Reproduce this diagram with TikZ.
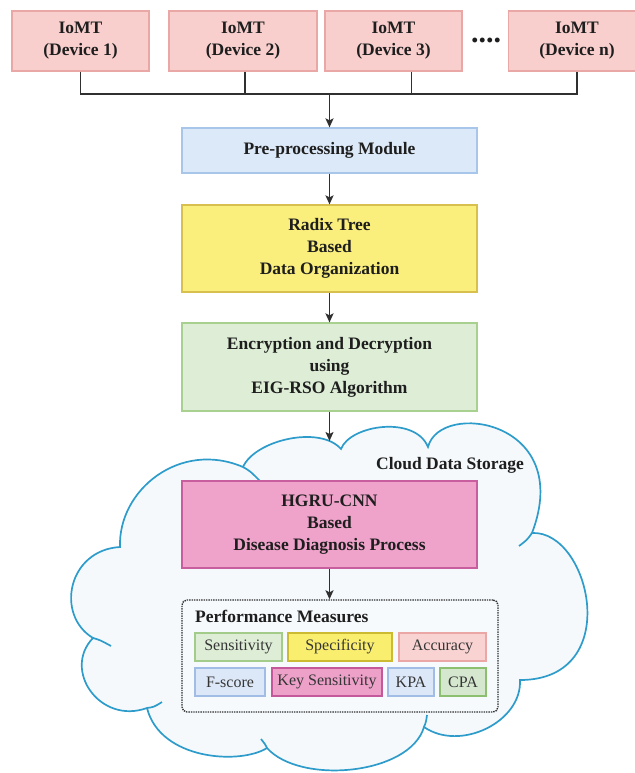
\documentclass[tikz,border=0pt]{standalone}
\usepackage{fontspec}
\setmainfont{Liberation Serif}
\usetikzlibrary{arrows.meta,calc}
\definecolor{txt}{HTML}{1E1E1E}
\definecolor{devfill}{HTML}{F8CFCD}\definecolor{devdraw}{HTML}{E9A8A6}
\definecolor{prefill}{HTML}{DCE9F8}\definecolor{predraw}{HTML}{A8C6EA}
\definecolor{radfill}{HTML}{FAEE7C}\definecolor{raddraw}{HTML}{D8C04E}
\definecolor{encfill}{HTML}{DDEDD6}\definecolor{encdraw}{HTML}{A8D08E}
\definecolor{hgfill}{HTML}{EFA3CA}\definecolor{hgdraw}{HTML}{C95E9E}
\definecolor{cloudfill}{HTML}{F5F9FC}\definecolor{clouddraw}{HTML}{2E9CCB}
\definecolor{perffill}{HTML}{F7FAFD}
\definecolor{sensfill}{HTML}{DDEDD6}\definecolor{sensdraw}{HTML}{A3CB8A}
\definecolor{specfill}{HTML}{F9EE6E}\definecolor{specdraw}{HTML}{CDBA33}
\definecolor{accfill}{HTML}{F9D3D2}\definecolor{accdraw}{HTML}{EBA7A5}
\definecolor{bluefill}{HTML}{DCE8F8}\definecolor{bluedraw}{HTML}{A1BDE6}
\definecolor{keyfill}{HTML}{EDA1C8}\definecolor{keydraw}{HTML}{C4589A}
\definecolor{cpafill}{HTML}{D5E8CF}\definecolor{cpadraw}{HTML}{8CC070}
\definecolor{linec}{HTML}{303030}
\begin{document}
\begin{tikzpicture}[x=1pt,y=-1pt,
  box/.style={draw, line width=1.2pt, inner sep=0pt, align=center, text=txt,
    font=\fontsize{17.5}{22}\selectfont\bfseries},
  item/.style={draw, line width=1.2pt, inner sep=0pt, align=center, text=txt!90,
    minimum height=28pt, font=\fontsize{16}{18}\selectfont},
  conn/.style={draw=linec, line width=1.7pt},
  arr/.style={conn, -{Stealth[length=9pt,width=8pt,inset=2pt]}},
  cloudline/.style={draw=clouddraw, line width=1.7pt}]
\useasboundingbox (0,0) rectangle (634,773);

% devices
\node[box, fill=devfill, draw=devdraw, minimum width=137pt, minimum height=60pt] (d1) at (80.5,41) {IoMT\\(Device 1)};
\node[box, fill=devfill, draw=devdraw, minimum width=148pt, minimum height=60pt] (d2) at (243,41) {IoMT\\(Device 2)};
\node[box, fill=devfill, draw=devdraw, minimum width=137pt, minimum height=60pt] (d3) at (393.5,41) {IoMT\\(Device 3)};
\node[box, fill=devfill, draw=devdraw, minimum width=137pt, minimum height=60pt] (dn) at (577,41) {IoMT\\(Device n)};
\node[text=txt, font=\fontsize{30}{30}\selectfont\bfseries, inner sep=0pt, anchor=base] (dots) at (486,43) {....};

\coordinate (bus) at (329.5,94);
\draw[conn] (d1.south) |- (bus);
\draw[conn] (dn.south) |- (bus);
\draw[conn] ([xshift=2pt]d2.south) -- ([xshift=2pt]d2.south |- bus);
\draw[conn] ([xshift=18pt]d3.south) -- ([xshift=18pt]d3.south |- bus);

% pipeline
\node[box, fill=prefill, draw=predraw, minimum width=295pt, minimum height=45pt] (pre) at (329.5,150.5) {Pre-processing Module};
\node[box, fill=radfill, draw=raddraw, minimum width=295pt, minimum height=87pt] (rad) at (329.5,248.5) {Radix Tree\\Based\\Data Organization};
\node[box, fill=encfill, draw=encdraw, minimum width=295pt, minimum height=88pt] (enc) at (329.5,367) {Encryption and Decryption\\using\\EIG-RSO Algorithm};

\draw[arr] (bus) -- (pre);
\draw[arr] (pre) -- (rad);
\draw[arr] (rad) -- (enc);

% cloud
\draw[cloudline, fill=cloudfill]
  (120,547) .. controls (118,490) and (180,440) .. (243,467)
  .. controls (255,440) and (320,425) .. (341,449)
  .. controls (350,425) and (415,415) .. (428,447)
  .. controls (440,400) and (575,420) .. (532,533)
  .. controls (590,530) and (625,680) .. (520,680)
  .. controls (522,722) and (460,752) .. (424,727)
  .. controls (410,775) and (300,785) .. (267,748)
  .. controls (240,765) and (160,760) .. (147,708)
  .. controls (100,725) and (62,670) .. (93,638)
  .. controls (55,615) and (68,550) .. (120,547) -- cycle;
\draw[cloudline] (243,467) .. controls (250,471) .. (260,481);
\draw[cloudline] (532,533) .. controls (527,540) .. (519,546);
\draw[cloudline] (93,638) .. controls (100,640) .. (111,646);
\draw[cloudline] (147,708) .. controls (154,707) .. (162,702);
\draw[cloudline] (267,748) .. controls (265,744) .. (261,739);
\draw[cloudline] (424,727) .. controls (426,722) .. (427,715);

\coordinate (cloudtop) at (329.5,441);
\draw[arr] (enc) -- (cloudtop);

\node[text=txt, font=\fontsize{17.5}{22}\selectfont\bfseries, inner sep=0pt] (cds) at (450,465) {Cloud Data Storage};

\node[box, fill=hgfill, draw=hgdraw, minimum width=295pt, minimum height=87pt] (hg) at (329.5,524.5) {HGRU-CNN\\Based\\Disease Diagnosis Process};

% performance
\node[draw=linec, densely dotted, line width=1.4pt, rounded corners=5pt, fill=perffill,
  minimum width=316pt, minimum height=112pt, inner sep=0pt] (perf) at (340,656) {};
\draw[arr] (hg.south) -- (hg.south |- perf.north);
\node[text=txt, font=\fontsize{17.5}{22}\selectfont\bfseries, inner sep=0pt, anchor=west] (pt) at (195,616) {Performance Measures};

\node[item, fill=sensfill, draw=sensdraw, minimum width=87pt] (sens) at (238.5,647) {Sensitivity};
\node[item, fill=specfill, draw=specdraw, minimum width=104pt] (spec) at (340,647) {Specificity};
\node[item, fill=accfill, draw=accdraw, minimum width=87pt] (acc) at (442.5,647) {Accuracy};
\node[item, fill=bluefill, draw=bluedraw, minimum width=70pt] (fs) at (230,682) {F-score};
\node[item, fill=keyfill, draw=keydraw, minimum width=110pt] (key) at (327,682) {Key Sensitivity};
\node[item, fill=bluefill, draw=bluedraw, minimum width=46pt] (kpa) at (411,682) {KPA};
\node[item, fill=cpafill, draw=cpadraw, line width=1.6pt, minimum width=46pt] (cpa) at (463,682) {CPA};
\end{tikzpicture}
\end{document}
